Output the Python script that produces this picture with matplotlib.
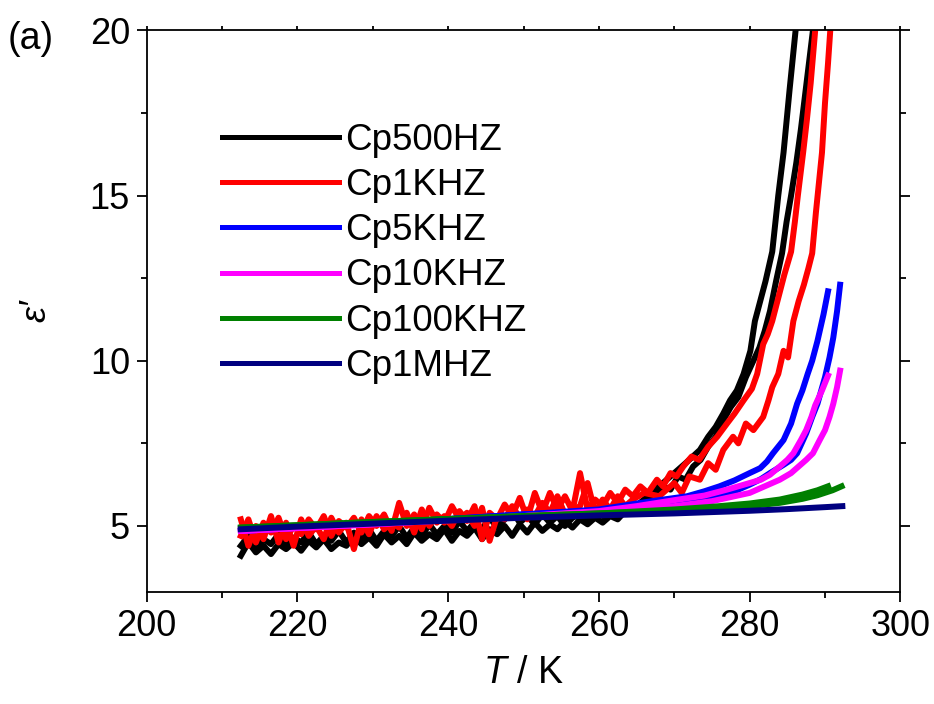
import matplotlib
matplotlib.use("Agg")
import matplotlib.pyplot as plt
from matplotlib.ticker import MultipleLocator

plt.rcParams['font.family'] = ['Liberation Sans', 'DejaVu Sans']
plt.rcParams['mathtext.fontset'] = 'custom'
plt.rcParams['mathtext.rm'] = 'Liberation Sans'
plt.rcParams['mathtext.it'] = 'Liberation Sans:italic'

# ---- data (T in K, eps') ----
# common temperature grid of the noisy low-T part
T_low = [212.5, 213.5, 214.5, 215.5, 216.5, 217.5, 218.5, 219.5, 220.5, 221.5,
         222.5, 223.5, 224.5, 225.5, 226.5, 227.5, 228.5, 229.5, 230.5, 231.5,
         232.5, 233.5, 234.5, 235.5, 236.5, 237.5, 238.5, 239.5, 240.5, 241.5,
         242.5, 243.5, 244.5, 245.5, 246.5, 247.5, 248.5, 249.5, 250.5, 251.5,
         252.5, 253.5, 254.5, 255.5, 256.5, 257.5, 258.5, 259.5, 260.5, 261.5,
         262.5, 263.5, 264.5]

# 500 Hz
black_a_low = [4.1, 4.5, 4.2, 4.4, 4.15, 4.45, 4.3, 4.5, 4.25, 4.55, 4.35, 4.6, 4.3, 4.5,
               4.4, 4.7, 4.45, 4.65, 4.4, 4.75, 4.5, 4.7, 4.45, 4.8, 4.55, 4.75, 4.6, 4.9,
               4.55, 4.85, 4.7, 4.95, 4.6, 4.9, 4.75, 5.0, 4.7, 5.05, 4.8, 5.1, 4.85, 5.05,
               4.9, 5.15, 4.95, 5.2, 5.05, 5.25, 5.1, 5.3, 5.2, 5.45, 5.4]
black_a_T = [265.5, 266.5, 268, 269, 270, 271.5, 273.4, 274.5, 275.5, 276.5, 277.4, 278.3,
             279.2, 280.1, 280.7, 281.4, 282.1, 283, 283.8, 284.5, 285.3, 286.1, 286.4]
black_a_e = [5.7, 5.9, 6.2, 6.4, 6.6, 6.9, 7.3, 7.7, 8.0, 8.4, 8.8, 9.1,
             9.6, 10.3, 11.2, 11.8, 12.4, 13.3, 15.0, 16.3, 18.2, 20.0, 21.0]
black_b_low = [4.4, 4.7, 4.3, 4.6, 4.45, 4.75, 4.4, 4.65, 4.5, 4.8, 4.45, 4.7, 4.55, 4.85,
               4.5, 4.8, 4.6, 4.9, 4.55, 4.85, 4.7, 5.0, 4.65, 4.95, 4.7, 5.05, 4.75, 5.0,
               4.8, 5.15, 4.85, 5.1, 4.9, 5.25, 4.95, 5.2, 5.45, 5.1, 5.3, 5.05, 5.35, 5.1,
               5.3, 5.0, 5.25, 5.35, 5.2, 5.45, 5.3, 5.5, 5.4, 5.6, 5.55]
black_b_T = [265.5, 266.5, 267.5, 268.5, 269.5, 270.5, 271.5, 272.5, 273.5, 274.5, 275.5,
             276.5, 277.5, 278.5, 279.5, 280.5, 281.3, 282, 282.7, 283.5, 284.3, 284.9,
             285.5, 286.2, 286.8, 287.6, 288.4, 288.6]
black_b_e = [5.7, 5.9, 5.8, 6.2, 6.1, 6.5, 6.4, 6.8, 7.0, 7.4, 7.7,
             8.2, 8.6, 8.9, 9.5, 10.0, 10.4, 10.9, 11.5, 12.4, 13.25, 14.2,
             15.0, 16.0, 17.0, 18.5, 20.0, 21.0]

# 1 kHz
red_a_low = [4.7, 5.2, 4.5, 5.1, 4.8, 5.25, 4.6, 5.0, 4.75, 5.2, 4.9, 5.3, 4.7, 5.15,
             4.95, 5.25, 4.8, 5.3, 5.0, 5.35, 4.85, 5.7, 5.0, 5.35, 4.9, 5.55, 5.1, 5.3,
             5.0, 5.45, 5.15, 5.6, 4.6, 5.4, 5.2, 5.65, 5.3, 5.85, 5.2, 6.0, 5.4, 6.0,
             5.5, 5.9, 5.45, 6.6, 5.5, 5.8, 5.6, 6.0, 5.7, 6.1, 5.9]
red_a_T = [265.5, 266.5, 267.7, 268.5, 269.5, 270.3, 271.2, 272.3, 273.3, 274.5, 275.7,
           277, 278, 279.2, 280.3, 281, 281.8, 282.4, 283, 283.8, 284.6, 285.5, 286,
           286.4, 287.1, 287.6, 288.1, 288.7, 288.9]
red_a_e = [6.2, 6.0, 6.4, 6.2, 6.6, 6.5, 6.8, 7.1, 7.0, 7.4, 7.7,
           8.1, 8.4, 8.8, 9.15, 9.6, 10.5, 10.8, 11.2, 11.9, 12.6, 13.3, 14.2,
           15.0, 16.3, 17.3, 18.4, 20.0, 21.0]
red_b_low = [5.2, 4.4, 5.0, 4.6, 5.3, 4.5, 5.1, 4.4, 5.2, 4.7, 5.0, 4.6, 5.25, 4.8,
             5.1, 4.3, 5.2, 4.75, 5.3, 4.9, 5.1, 4.95, 5.4, 4.8, 5.5, 5.0, 5.35, 5.1,
             5.6, 5.2, 5.4, 5.0, 5.55, 4.55, 5.3, 5.2, 5.6, 5.25, 5.5, 5.3, 5.7, 5.4,
             5.9, 5.35, 5.5, 5.6, 6.3, 5.4, 5.8, 5.5, 5.9, 5.6, 5.8]
red_b_T = [266, 268, 270, 271, 272, 273.4, 274.5, 275.5, 276.5, 277.8, 278.5, 279.5,
           280.5, 281.8, 282.5, 283, 283.8, 284.5, 285.1, 285.8, 286.5, 287.2, 287.8,
           288.3, 288.8, 289.2, 289.6, 290.0, 290.4, 290.7, 290.9]
red_b_e = [6.0, 5.9, 6.3, 6.0, 6.5, 6.4, 6.9, 6.7, 7.3, 7.7, 7.5, 8.1,
           7.9, 8.3, 8.8, 9.2, 9.6, 10.3, 10.1, 11.2, 11.8, 12.3, 12.8,
           13.25, 14.5, 15.4, 16.3, 17.8, 19.0, 20.0, 21.0]

# 5 kHz
blue_a_T = [212.5, 230, 250, 260, 262.8, 267, 271.7, 274, 276, 278, 280, 281.4, 282.3,
            283.1, 284.5, 285.5, 286.3, 287, 287.7, 288.3, 289, 289.8, 290.4]
blue_a_e = [4.85, 5.07, 5.35, 5.5, 5.6, 5.75, 5.9, 6.05, 6.2, 6.38, 6.6, 6.75, 6.95,
            7.2, 7.6, 8.1, 8.7, 9.1, 9.6, 10.0, 10.6, 11.4, 12.1]
blue_b_T = [212.5, 230, 250, 260, 265, 270, 275, 278, 280, 281.5, 282.7, 284.5, 285.5,
            286.3, 287.5, 288.3, 289, 290, 290.6, 291.1, 291.6, 292]
blue_b_e = [4.85, 5.07, 5.35, 5.45, 5.55, 5.68, 5.88, 6.05, 6.25, 6.42, 6.6, 6.85, 7.0,
            7.2, 7.8, 8.3, 8.7, 9.5, 10.1, 10.7, 11.5, 12.3]

# 10 kHz
mag_a_T = [212.5, 230, 250, 260, 265, 270, 274, 277, 280, 281.5, 282.7, 284, 285,
           285.8, 286.8, 287.5, 288.2, 288.7, 289.6, 290.4]
mag_a_e = [4.85, 5.05, 5.3, 5.45, 5.6, 5.78, 5.92, 6.1, 6.3, 6.4, 6.55, 6.8, 7.0,
           7.2, 7.6, 7.9, 8.3, 8.65, 9.1, 9.55]
mag_b_T = [212.5, 230, 250, 260, 265, 270, 275, 280, 282, 284, 285.5, 286.5, 287.5,
           288.4, 289.3, 290, 290.6, 291.1, 291.6, 292]
mag_b_e = [4.85, 5.05, 5.3, 5.42, 5.5, 5.6, 5.75, 6.0, 6.2, 6.4, 6.6, 6.8, 7.0,
           7.2, 7.6, 7.9, 8.3, 8.7, 9.2, 9.7]

# 100 kHz
green_a_T = [212.5, 230, 250, 260, 270, 275, 280, 284, 287, 289, 290.4]
green_a_e = [4.95, 5.12, 5.3, 5.38, 5.5, 5.58, 5.68, 5.8, 5.95, 6.08, 6.2]
green_b_T = [212.5, 230, 250, 260, 270, 275, 280, 284, 287, 289, 291, 292.2]
green_b_e = [4.95, 5.12, 5.3, 5.38, 5.46, 5.52, 5.6, 5.7, 5.82, 5.93, 6.08, 6.2]

# 1 MHz
navy_T = [212.5, 220, 230, 240, 250, 260, 270, 275, 280, 285, 290, 292.3]
navy_e = [4.9, 4.98, 5.07, 5.16, 5.25, 5.32, 5.38, 5.42, 5.46, 5.51, 5.57, 5.6]

labels = ['Cp500HZ', 'Cp1KHZ', 'Cp5KHZ', 'Cp10KHZ', 'Cp100KHZ', 'Cp1MHZ']
colors = ['#000000', '#ff0000', '#0000ff', '#ff00ff', '#008000', '#000080']

fig = plt.figure(figsize=(9.34, 7.04), dpi=100)
ax = fig.add_axes([0.157, 0.159, 0.807, 0.798])
lw = 4.3

# noisy low-frequency loops
ax.plot(T_low + black_a_T, black_a_low + black_a_e, color=colors[0], lw=lw, label=labels[0])
ax.plot(T_low + black_b_T, black_b_low + black_b_e, color=colors[0], lw=lw)
ax.plot(T_low + red_a_T, red_a_low + red_a_e, color=colors[1], lw=lw, label=labels[1])
ax.plot(T_low + red_b_T, red_b_low + red_b_e, color=colors[1], lw=lw)
# smooth higher-frequency loops
ax.plot(blue_a_T, blue_a_e, color=colors[2], lw=lw, label=labels[2])
ax.plot(blue_b_T, blue_b_e, color=colors[2], lw=lw)
ax.plot(mag_a_T, mag_a_e, color=colors[3], lw=lw, label=labels[3])
ax.plot(mag_b_T, mag_b_e, color=colors[3], lw=lw)
ax.plot(green_a_T, green_a_e, color=colors[4], lw=lw, label=labels[4])
ax.plot(green_b_T, green_b_e, color=colors[4], lw=lw)
ax.plot(navy_T, navy_e, color=colors[5], lw=lw, label=labels[5])

ax.set_xlim(200, 300)
ax.set_ylim(3, 20)
ax.xaxis.set_major_locator(MultipleLocator(20))
ax.xaxis.set_minor_locator(MultipleLocator(10))
ax.yaxis.set_major_locator(MultipleLocator(5))
ax.yaxis.set_minor_locator(MultipleLocator(2.5))

for s in ax.spines.values():
    s.set_linewidth(1.3)
ax.tick_params(which='both', direction='out', width=1.3, labelsize=26, pad=5)
ax.tick_params(which='major', length=7)
ax.tick_params(which='minor', length=4)
ax.tick_params(which='both', top=True, right=True, labeltop=False, labelright=False)
# short ticks on the mirrored top axis
for t in ax.xaxis.get_ticklines(minor=True)[1::2] + ax.xaxis.get_ticklines()[1::2]:
    t.set_markersize(3)

ax.set_xlabel(r'$\it{T}$ / K', fontsize=27, labelpad=8)
ax.set_ylabel('ε′', fontsize=26, fontstyle='italic', labelpad=26)
fig.text(0.008, 0.93, '(a)', fontsize=27)

leg = ax.legend(loc='upper left', bbox_to_anchor=(0.08, 0.862), frameon=False,
                fontsize=26.5, handlelength=3.2, handletextpad=0.15, labelspacing=0.28,
                borderaxespad=0)
for h in leg.get_lines():
    h.set_linewidth(3.6)

fig.savefig('out.png', dpi=100)
